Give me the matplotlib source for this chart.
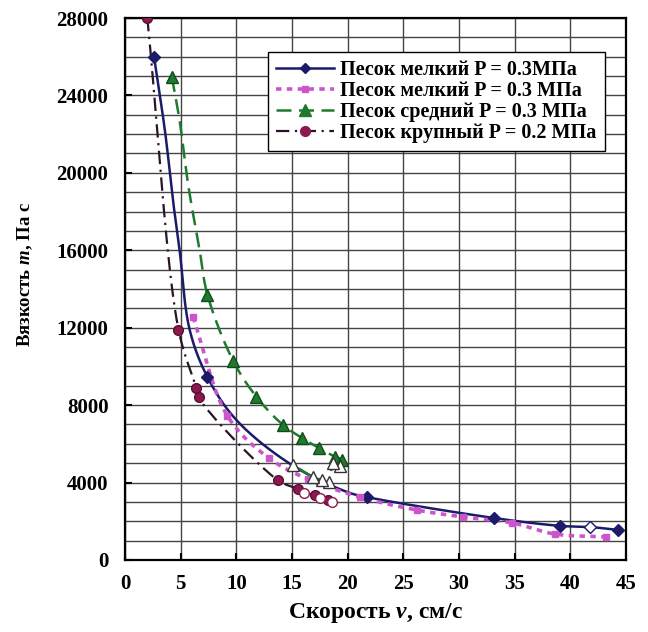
import numpy as np
import matplotlib.pyplot as plt

plt.rcParams['font.family'] = ['Liberation Serif', 'DejaVu Serif']
plt.rcParams['font.weight'] = 'bold'
plt.rcParams['axes.labelweight'] = 'bold'
plt.rcParams['mathtext.fontset'] = 'custom'
plt.rcParams['mathtext.it'] = 'Liberation Serif:italic:bold'
plt.rcParams['mathtext.rm'] = 'Liberation Serif:bold'

# Песок мелкий P = 0.3МПа (solid, diamonds)
fine_curve_v = [2.6, 3.6, 4.3, 4.9, 5.8, 7.4, 10.0, 15.0, 20.0, 21.7, 33.1, 39.1, 41.8, 44.3]
fine_curve_m = [26000, 22100, 18600, 16000, 11900, 9450, 7230, 4900, 3500, 3250, 2170, 1760, 1700, 1550]
fine_v = [2.6, 7.4, 21.7, 33.1, 39.1, 44.3]
fine_m = [26000, 9450, 3250, 2170, 1760, 1550]
fine_open_v = [41.8]
fine_open_m = [1700]

# Песок мелкий P = 0.3 МПа (dotted, squares)
fine2_v = [6.1, 9.2, 12.9, 16.4, 21.1, 26.2, 30.4, 34.8, 38.6, 43.2]
fine2_m = [12550, 7440, 5270, 4180, 3250, 2580, 2220, 1910, 1340, 1190]

# Песок средний P = 0.3 МПа (dashed, triangles)
mid_v = [4.2, 7.4, 9.7, 11.8, 14.2, 15.9, 17.4, 18.9, 19.5, 19.3, 18.7, 18.3, 17.7, 16.9, 15.1]
mid_m = [24950, 13700, 10300, 8430, 6970, 6300, 5790, 5320, 5160, 4860, 5010, 4030, 4130, 4290, 4900]
mid_filled = 9
# extra points read along the dashed line between the first two triangles
mid_top_v = [4.2, 4.9, 5.7, 6.7, 7.4]
mid_top_m = [24950, 22700, 19270, 16000, 13700]

# Песок крупный P = 0.2 МПа (dash-dot, circles)
coarse_v = [2.0, 4.8, 6.4, 6.6, 13.7, 15.5, 16.1, 17.1, 17.5, 18.2, 18.6]
coarse_m = [28000, 11900, 8900, 8400, 4130, 3670, 3460, 3360, 3200, 3100, 3000]
coarse_open = [False, False, False, False, False, False, True, False, True, False, True]

labels = ['Песок мелкий P = 0.3МПа', 'Песок мелкий P = 0.3 МПа',
          'Песок средний P = 0.3 МПа', 'Песок крупный P = 0.2 МПа']


def smooth(x, y, n=20):
    # centripetal Catmull-Rom through the points (axis-scaled), like Excel's smoothed lines
    sx, sy = 500 / 45, 542 / 28000
    p = np.column_stack([np.array(x) * sx, np.array(y) * sy]).astype(float)
    p = np.vstack([2 * p[0] - p[1], p, 2 * p[-1] - p[-2]])
    out = []
    for i in range(1, len(p) - 2):
        p0, p1, p2, p3 = p[i - 1], p[i], p[i + 1], p[i + 2]
        t0 = 0.0
        t1 = t0 + max(np.linalg.norm(p1 - p0), 1e-6) ** 0.5
        t2 = t1 + max(np.linalg.norm(p2 - p1), 1e-6) ** 0.5
        t3 = t2 + max(np.linalg.norm(p3 - p2), 1e-6) ** 0.5
        t = np.linspace(t1, t2, n, endpoint=False)[:, None]
        a1 = (t1 - t) / (t1 - t0) * p0 + (t - t0) / (t1 - t0) * p1
        a2 = (t2 - t) / (t2 - t1) * p1 + (t - t1) / (t2 - t1) * p2
        a3 = (t3 - t) / (t3 - t2) * p2 + (t - t2) / (t3 - t2) * p3
        b1 = (t2 - t) / (t2 - t0) * a1 + (t - t0) / (t2 - t0) * a2
        b2 = (t3 - t) / (t3 - t1) * a2 + (t - t1) / (t3 - t1) * a3
        out.append((t2 - t) / (t2 - t1) * b1 + (t - t1) / (t2 - t1) * b2)
    out.append(p[-2][None, :])
    s = np.vstack(out)
    return s[:, 0] / sx, s[:, 1] / sy


navy = '#1b1b6a'
pink = '#cc55cc'
green = '#1f7a2e'
maroon = '#8a1a4e'
dashdot = '#2a1428'

fig = plt.figure(figsize=(6.48, 6.32), dpi=100)
ax = fig.add_axes([0.193, 0.114, 0.773, 0.8575])

# lines
sx, sy = smooth(fine_curve_v, fine_curve_m)
ax.plot(sx, sy, color=navy, lw=1.8, zorder=3)
sx, sy = smooth(fine2_v, fine2_m)
ax.plot(sx, sy, color=pink, lw=2.6, linestyle=(0, (1.5, 1.5)), zorder=3)
line_v = mid_top_v[:-1] + mid_v[1:]
line_m = mid_top_m[:-1] + mid_m[1:]
sx, sy = smooth(line_v, line_m)
ax.plot(sx, sy, color=green, lw=1.8, linestyle=(0, (6, 3)), zorder=3)
sx, sy = smooth(coarse_v, coarse_m)
ax.plot(sx, sy, color=dashdot, lw=1.6, linestyle=(0, (6, 2.5, 1, 2.5)), zorder=3)

# markers
ax.plot(fine_v, fine_m, 'D', color=navy, ms=6, zorder=4)
ax.plot(fine_open_v, fine_open_m, 'D', mfc='white', mec=navy, ms=6, zorder=4)
ax.plot(fine2_v, fine2_m, 's', color=pink, ms=5, zorder=4)
ax.plot(mid_v[:mid_filled], mid_m[:mid_filled], '^', color=green, mec='#0f4d1a', ms=8, zorder=4)
ax.plot(mid_v[mid_filled:], mid_m[mid_filled:], '^', mfc='white', mec='#333333', ms=8, zorder=4)
cv = np.array(coarse_v)
cm = np.array(coarse_m)
co = np.array(coarse_open)
ax.plot(cv[~co], cm[~co], 'o', color=maroon, mec='#5a0f33', ms=7, zorder=4)
ax.plot(cv[co], cm[co], 'o', mfc='white', mec=maroon, ms=7, zorder=4)

# legend handles
h1, = ax.plot([], [], color=navy, lw=1.8, marker='D', ms=5)
h2, = ax.plot([], [], color=pink, lw=2.6, linestyle=(0, (1.5, 1.5)), marker='s', ms=5)
h3, = ax.plot([], [], color=green, lw=1.8, linestyle=(0, (6, 3)), marker='^', ms=8)
h4, = ax.plot([], [], color=dashdot, lw=1.6, linestyle=(0, (6, 2.5, 1, 2.5)),
              marker='o', mfc=maroon, mec=maroon, ms=7)
leg = ax.legend([h1, h2, h3, h4], labels, loc='upper right', bbox_to_anchor=(0.958, 0.937),
                borderaxespad=0, fancybox=False, framealpha=1, edgecolor='black',
                fontsize=14.5, handlelength=2.9, handletextpad=0.3, borderpad=0.4,
                labelspacing=0.05)
leg.get_frame().set_linewidth(1.0)

ax.set_xlim(0, 45)
ax.set_ylim(0, 28000)
ax.set_xticks(np.arange(0, 46, 5))
ax.set_yticks(np.arange(0, 28001, 4000))
ax.set_yticks(np.arange(0, 28001, 1000), minor=True)
ax.grid(True, which='both', color='#444444', lw=1.0)
ax.set_axisbelow(True)
ax.tick_params(direction='in', length=5, width=1.5, labelsize=15)
ax.tick_params(axis='y', pad=12)
ax.tick_params(axis='x', pad=10)
ax.tick_params(which='minor', length=0)
for s in ax.spines.values():
    s.set_linewidth(1.6)

ax.set_xlabel(r'Скорость $v$, см/с', fontsize=17, fontweight='bold', labelpad=5)
ax.set_ylabel(r'Вязкость $m$, Па с', fontsize=13.5, fontweight='bold')
ax.yaxis.set_label_coords(-0.18, 0.526)

plt.savefig('out.png', dpi=100)
